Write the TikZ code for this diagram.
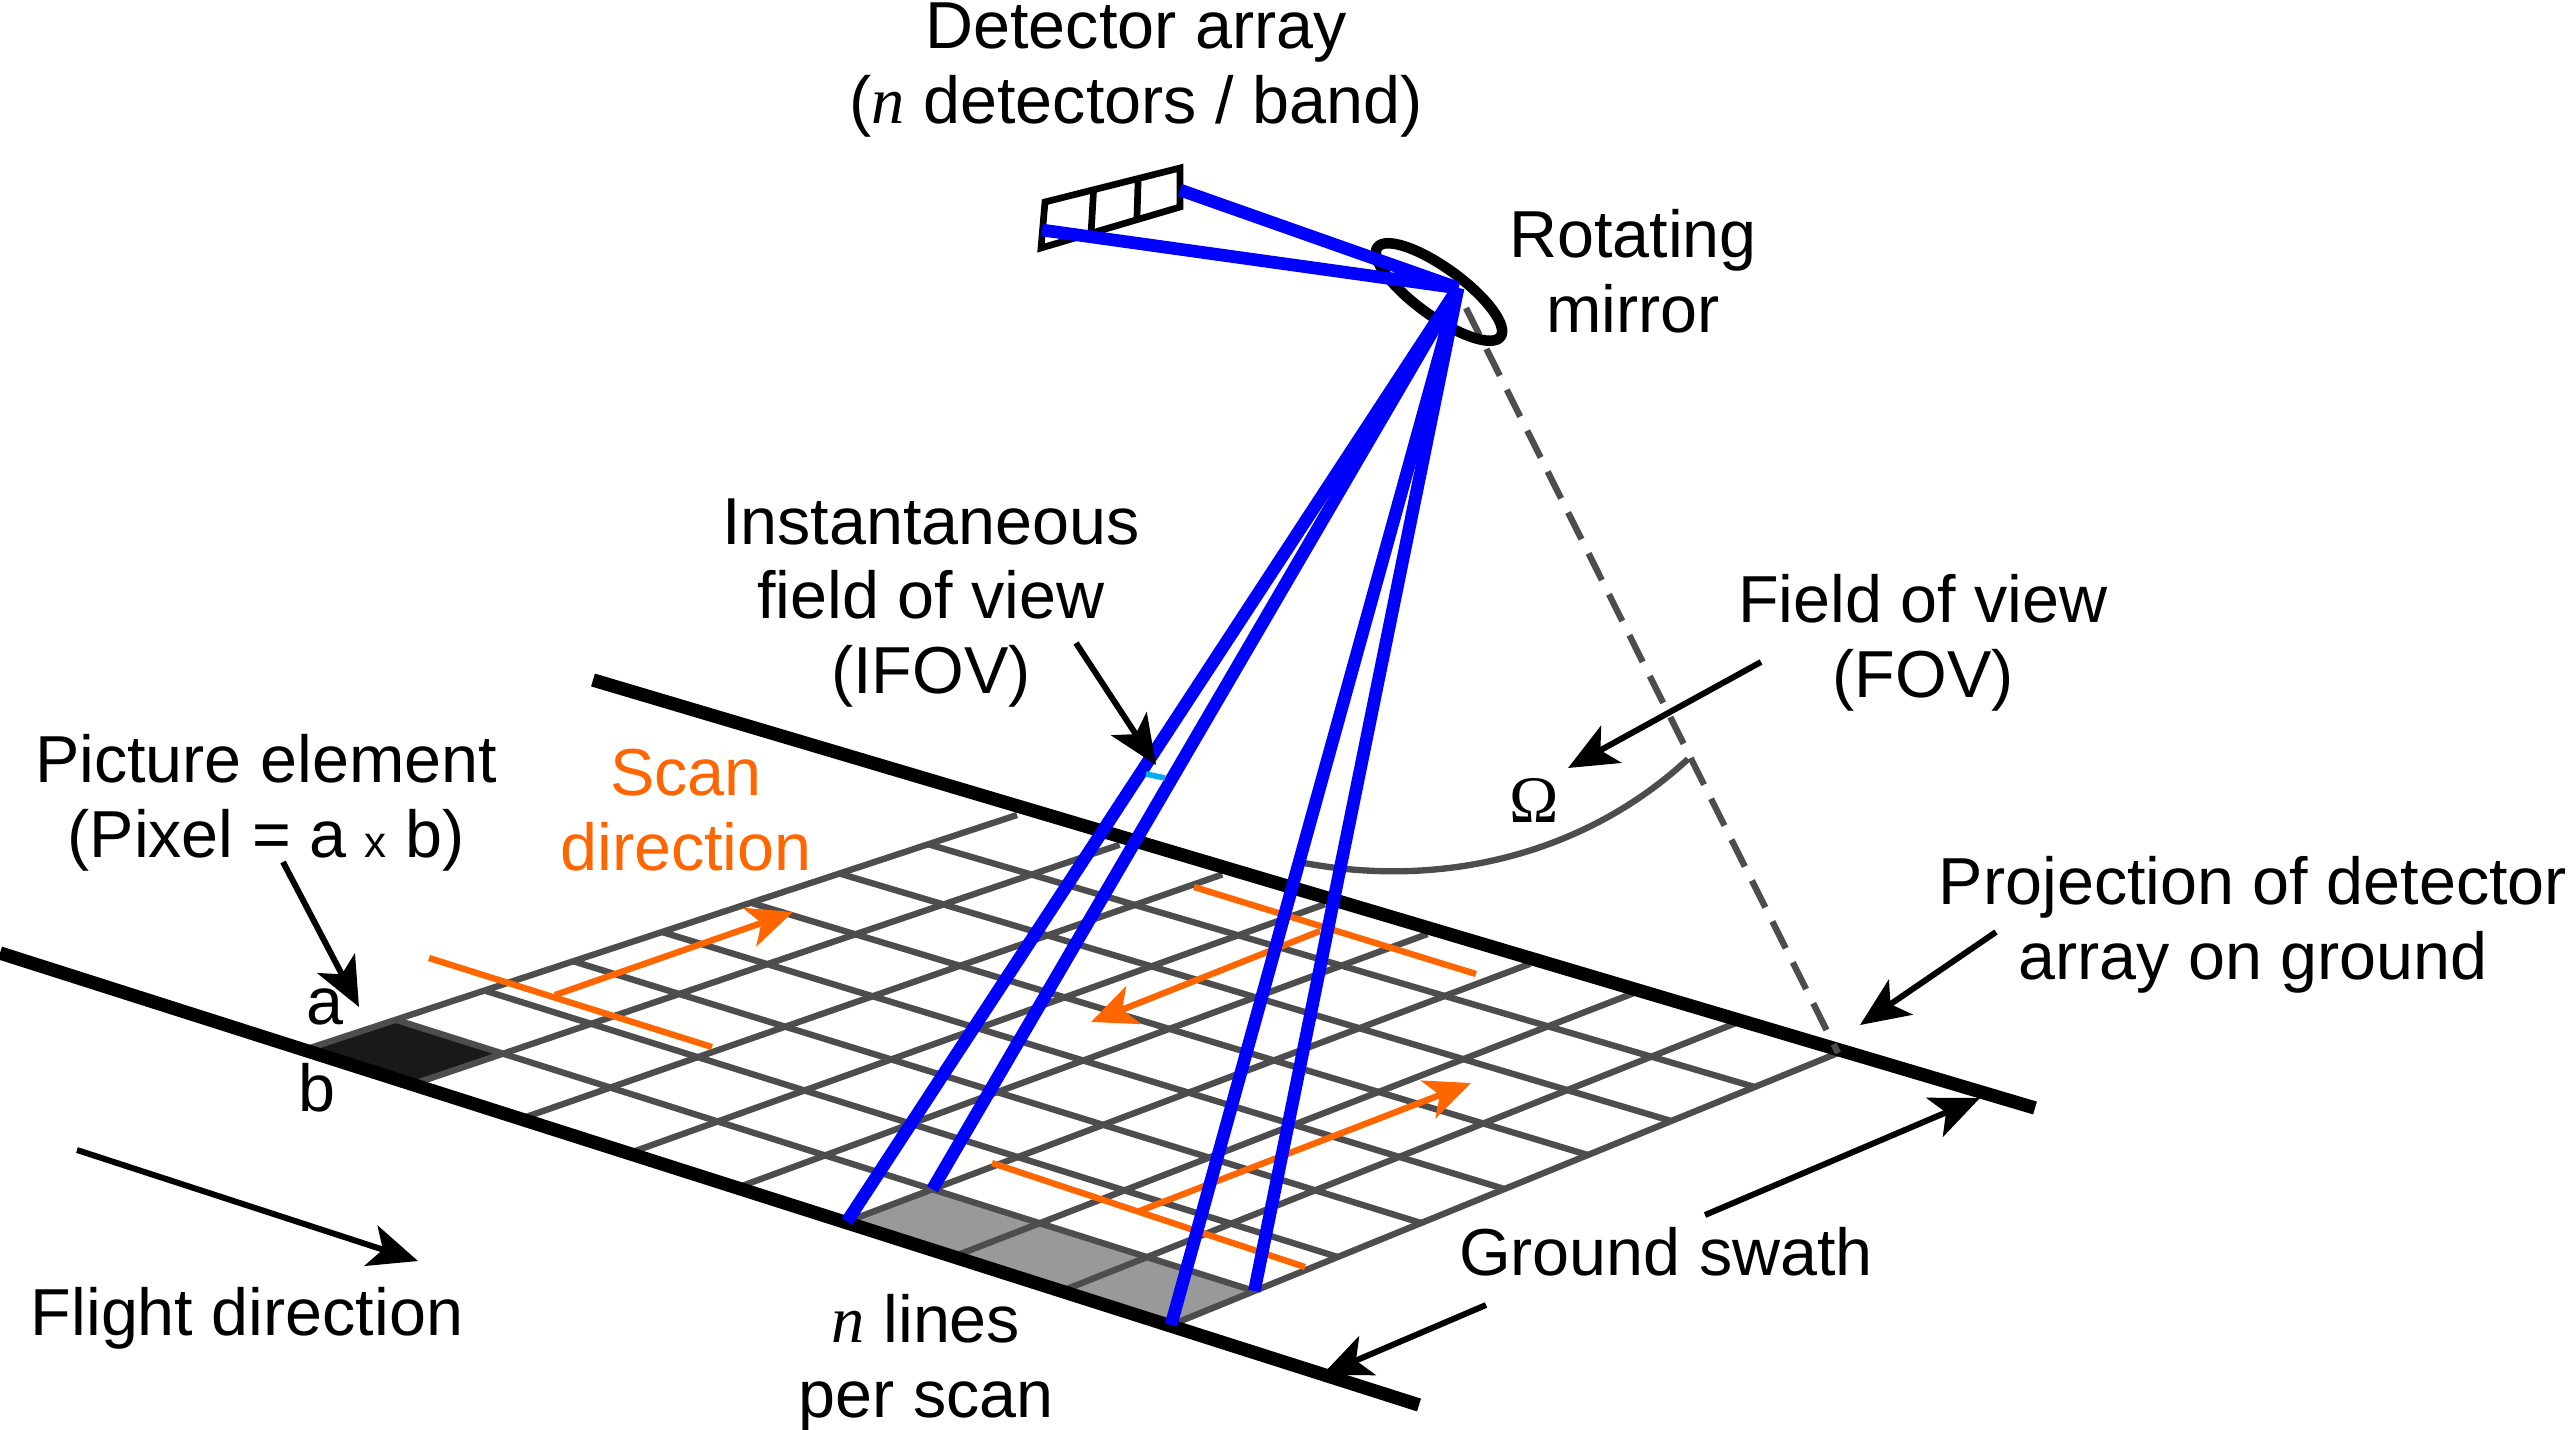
\documentclass[tikz,border=0pt]{standalone}
\usepackage{fontspec}
\setmainfont{Liberation Sans}
\newfontfamily\symfont{Liberation Serif}
\usetikzlibrary{calc, shapes, arrows.meta}
\definecolor{scanorange}{HTML}{FF6600}
\definecolor{gridgray}{HTML}{4D4D4D}
\tikzset{
  lbl/.style={align=center, font=\fontsize{18.9}{21.2}\selectfont, inner sep=0pt},
  gridline/.style={draw=gridgray, line width=1.8pt},
  thickline/.style={draw=black, line width=3.8pt},
  beam/.style={draw=blue, line width=3.6pt},
  scanline/.style={draw=scanorange, line width=1.8pt},
  scanarrow/.style={scanline, -{Stealth[length=13pt, width=11.5pt, inset=3.5pt]}},
  callout/.style={draw=black, line width=1.7pt, -{Stealth[length=14pt, width=12pt, inset=3.5pt]}}
}
\begin{document}
\begin{tikzpicture}[x=0.01cm, y=-0.01cm]
\useasboundingbox (0,0) rectangle (2569,1430);
%ground grid corners
\coordinate (ga) at (307,1049); \coordinate (gb) at (1017,815);
\coordinate (gc) at (1838,1053); \coordinate (gd) at (1171,1325);
%filled cells
\fill[black!90] (ga) -- ($(ga)!0.125!(gb)$) -- ($($(ga)!0.125!(gd)$)!0.125!($(gb)!0.125!(gc)$)$) -- ($(ga)!0.125!(gd)$) -- cycle;
\coordinate (st1) at ($(ga)!0.625!(gd)$); \coordinate (st2) at ($(st1)!0.125!($(gb)!0.625!(gc)$)$);
\coordinate (st3) at ($(gd)!0.125!(gc)$);
\fill[black!40] (st1) -- (st2) -- (st3) -- (gd) -- cycle;
%grid
\foreach \k in {0,...,8} {
  \draw[gridline] ($(ga)!\k/8!(gd)$) -- ($(gb)!\k/8!(gc)$);
}
\foreach \k in {1,...,7} {
  \draw[gridline] ($(ga)!\k/8!(gb)$) -- ($(gd)!\k/8!(gc)$);
}
%swath edges
\coordinate (fl1) at (0,953); \coordinate (fl2) at (1419,1405);
\coordinate (rl1) at (593,680); \coordinate (rl2) at (2035,1108);
\draw[thickline] (fl1) -- (fl2);
\draw[thickline] (rl1) -- (rl2);
%scan lines
\coordinate (sa1) at (429,958); \coordinate (sa2) at (712,1047); \coordinate (sa3) at (555,995); \coordinate (sa4) at (793,912);
\coordinate (sb1) at (1194,887); \coordinate (sb2) at (1476,974); \coordinate (sb3) at (1320,931); \coordinate (sb4) at (1091,1022);
\coordinate (sc1) at (992,1163); \coordinate (sc2) at (1305,1267); \coordinate (sc3) at (1137,1212); \coordinate (sc4) at (1471,1083);
\draw[scanline] (sa1) -- (sa2); \draw[scanarrow] (sa3) -- (sa4);
\draw[scanline] (sb1) -- (sb2); \draw[scanarrow] (sb3) -- (sb4);
\draw[scanline] (sc1) -- (sc2); \draw[scanarrow] (sc3) -- (sc4);
%field of view
\coordinate (apex) at (1458,288);
\coordinate (arc1) at (1304,863); \coordinate (arc2) at (1688,759);
\draw[gridline] (arc1) .. controls (1450,890) and (1590,850) .. (arc2);
\coordinate (dash1) at (1466,308);
\draw[gridline, dash pattern=on 8.5pt off 4.5pt] (dash1) -- (gc);
%mirror and detector
\node[shape=ellipse, rotate=-36, draw=black, line width=3pt, minimum width=1.52cm, minimum height=0.48cm, inner sep=0pt] (mirror) at (1439,292) {};
\coordinate (dt1) at (1045,202); \coordinate (dt2) at (1180,168); \coordinate (dt3) at (1180,207); \coordinate (dt4) at (1041,248);
\draw[black, line width=1.9pt] (dt1) -- (dt2) -- (dt3) -- (dt4) -- cycle;
\draw[black, line width=1.9pt] ($(dt1)!0.36!(dt2)$) -- ($(dt4)!0.36!(dt3)$);
\draw[black, line width=1.9pt] ($(dt1)!0.69!(dt2)$) -- ($(dt4)!0.69!(dt3)$);
%beams
\coordinate (bm1) at (1180,190); \coordinate (bm2) at (1042,230);
\draw[beam, line join=bevel] (bm1) -- (apex) -- (bm2);
\draw[beam] (apex) -- (st1);
\draw[beam] (apex) -- (st2);
\draw[beam] (apex) -- (gd);
\draw[beam] (apex) -- (st3);
\coordinate (cy1) at (1146,774); \coordinate (cy2) at (1165,778);
\draw[cyan, line width=1.6pt] (cy1) -- (cy2);
%labels
\node[lbl] (det) at (1136,70) {Detector array\\({\symfont\itshape n} detectors / band)};
\node[lbl] (rot) at (1633,271) {Rotating\\mirror};
\node[lbl] (ifov) at (931,603) {Instantaneous\\field of view\\(IFOV)};
\node[lbl] (fov) at (1923,643) {Field of view\\(FOV)};
\node[lbl] (pic) at (266,803) {Picture element\\(Pixel = a {\fontsize{12.5}{12.5}\selectfont x} b)};
\node[lbl, text=scanorange] (scan) at (686,810) {Scan\\direction};
\node[lbl] (la) at (325,1007) {a};
\node[lbl] (lb) at (317,1088) {b};
\node[lbl] (flight) at (247,1318) {Flight direction};
\node[lbl] (swath) at (1666,1252) {Ground swath};
\node[lbl] (nlines) at (926,1363) {{\symfont\itshape n} lines\\per scan};
\node[lbl] (proj) at (2253,925) {Projection of detector\\array on ground};
\node[lbl] (omega) at (1534,800) {\symfont Ω};
%callouts
\coordinate (ca1) at (283,862); \coordinate (ca2) at (359,1007);
\coordinate (cb1) at (1076,643); \coordinate (cb2) at (1156,765);
\coordinate (cc1) at (1761,662); \coordinate (cc2) at (1568,768);
\coordinate (cd1) at (1996,932); \coordinate (cd2) at (1860,1025);
\coordinate (ce1) at (1705,1215); \coordinate (ce2) at (1980,1098);
\coordinate (cf1) at (1486,1305); \coordinate (cf2) at (1322,1375);
\coordinate (cg1) at (77,1150); \coordinate (cg2) at (418,1261);
\draw[callout] (ca1) -- (ca2); \draw[callout] (cb1) -- (cb2); \draw[callout] (cc1) -- (cc2);
\draw[callout] (cd1) -- (cd2); \draw[callout] (ce1) -- (ce2); \draw[callout] (cf1) -- (cf2);
\draw[callout] (cg1) -- (cg2);
\end{tikzpicture}
\end{document}
